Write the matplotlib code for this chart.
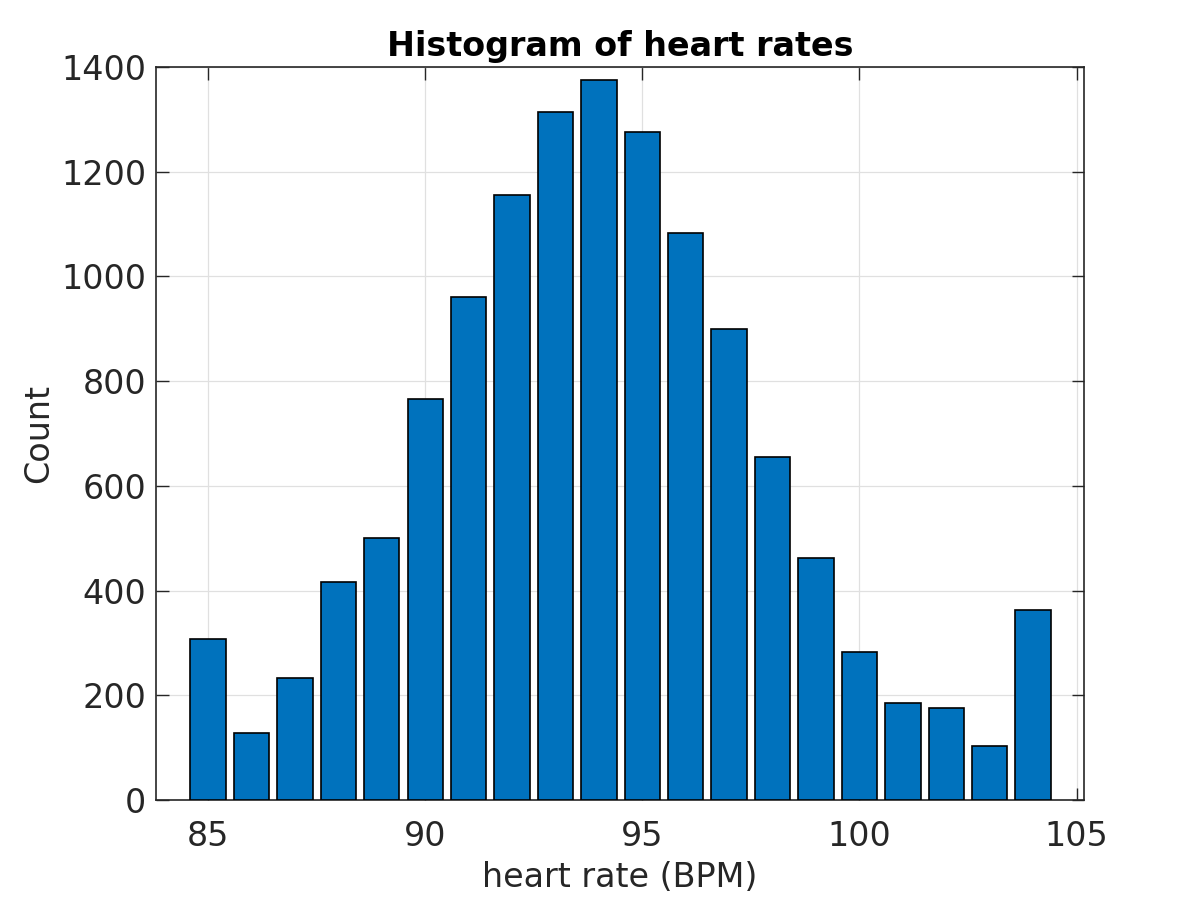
import numpy as np
import matplotlib
matplotlib.use("Agg")
import matplotlib.pyplot as plt

# histogram bins (bin centres) and counts
heart_rate = [85, 86, 87, 88, 89, 90, 91, 92, 93, 94,
              95, 96, 97, 98, 99, 100, 101, 102, 103, 104]
counts = [307, 128, 233, 417, 501, 766, 960, 1155, 1315, 1375,
          1276, 1084, 900, 656, 463, 283, 186, 175, 104, 363]

x_ticks = [85, 90, 95, 100, 105]
y_ticks = [0, 200, 400, 600, 800, 1000, 1200, 1400]

plt.rcParams['font.family'] = 'DejaVu Sans'
txt = '#262626'

fig = plt.figure(figsize=(12, 9), dpi=100)
ax = fig.add_axes([0.13, 0.111, 0.7736, 0.8145])

ax.bar(heart_rate, counts, width=0.815, color='#0072BD',
       edgecolor='black', linewidth=1.2, zorder=3)

ax.set_xlim(83.8, 105.18)
ax.set_ylim(0, 1400)
ax.set_xticks(x_ticks)
ax.set_yticks(y_ticks)

ax.grid(True, color='#e0e0e0', linewidth=0.9, zorder=0)
ax.tick_params(direction='in', length=9, width=1, colors=txt,
               labelsize=24, top=True, right=True)
ax.tick_params(axis='x', pad=14)
ax.tick_params(axis='y', pad=7)
for s in ax.spines.values():
    s.set_color(txt)
    s.set_linewidth(1.2)

ax.set_xlabel('heart rate (BPM)', fontsize=24, color=txt, labelpad=6)
ax.set_ylabel('Count', fontsize=24, color=txt, labelpad=4)
ax.set_title('Histogram of heart rates', fontsize=24, fontweight='bold',
             color='black', pad=8)

fig.savefig('out.png', dpi=100)
